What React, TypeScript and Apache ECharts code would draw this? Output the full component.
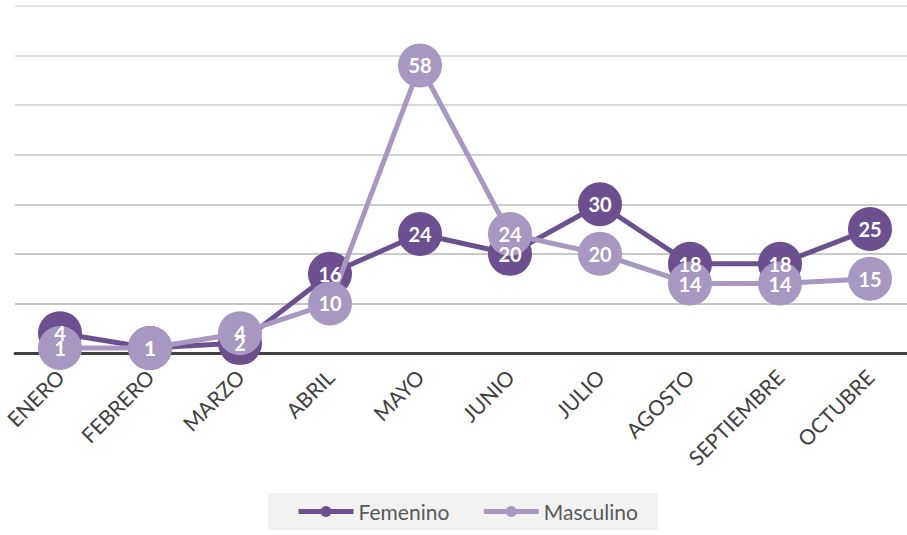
import React, { useEffect, useRef } from "react";
import * as echarts from "echarts";

const categories = ["ENERO", "FEBRERO", "MARZO", "ABRIL", "MAYO", "JUNIO", "JULIO", "AGOSTO", "SEPTIEMBRE", "OCTUBRE"];
const femenino = [4, 1, 2, 16, 24, 20, 30, 18, 18, 25];
const masculino = [1, 1, 4, 10, 58, 24, 20, 14, 14, 15];

const FEM = "#6b4f8f";
const MAS = "#a797c1";
const FONT = "Lato, 'Open Sans', sans-serif";

export default function App() {
  const ref = useRef<HTMLDivElement>(null);
  useEffect(() => {
    if (!ref.current) return;
    const chart = echarts.init(ref.current, undefined, { renderer: "svg" });
    const mkSeries = (name: string, data: number[], color: string, z: number) => ({
      name,
      type: "line",
      data,
      z,
      symbol: "circle",
      symbolSize: 44,
      lineStyle: { color, width: 5 },
      itemStyle: { color },
      label: { show: false },
    });
    const mkLabels = (name: string, data: number[], z: number) => ({
      name,
      type: "line",
      data,
      z,
      symbol: "circle",
      symbolSize: 1,
      lineStyle: { opacity: 0, width: 0 },
      itemStyle: { color: "transparent" },
      label: {
        show: true,
        position: "inside",
        color: "#ffffff",
        fontSize: 20,
        fontWeight: "bold",
        fontFamily: FONT,
      },
    });
    chart.setOption({
      animation: false,
      textStyle: { fontFamily: FONT },
      grid: { left: 15, top: 6, width: 900, height: 347, containLabel: false },
      legend: {
        bottom: 5,
        left: 268,
        backgroundColor: "#f2f2f2",
        padding: [8, 20, 8, 28],
        itemGap: 32,
        itemWidth: 55,
        itemHeight: 14,
        lineStyle: { width: 5 },
        textStyle: { fontSize: 21, color: "#595959", fontFamily: FONT },
        data: ["Femenino", "Masculino"],
      },
      xAxis: {
        type: "category",
        data: categories,
        boundaryGap: true,
        axisLine: { show: true, lineStyle: { color: "#404040", width: 3 } },
        axisTick: { show: false },
        axisLabel: { rotate: 45, fontSize: 21, color: "#404040", fontFamily: FONT, margin: 20 },
      },
      yAxis: {
        type: "value",
        min: 0,
        max: 70,
        interval: 10,
        axisLabel: { show: false },
        axisLine: { show: false },
        axisTick: { show: false },
        splitLine: {
          lineStyle: {
            width: 2,
            color: ["#404040", "#c4c4c4", "#c8c8c8", "#cdcdcd", "#d3d3d3", "#d9d9d9", "#dfdfdf", "#e6e6e6"],
          },
        },
      },
      series: [
        mkSeries("Femenino", femenino, FEM, 2),
        mkSeries("Masculino", masculino, MAS, 3),
        mkLabels("femLabels", femenino, 4),
        mkLabels("masLabels", masculino, 5),
      ],
    });
    return () => chart.dispose();
  }, []);
  return (
    <div style={{ position: "absolute", left: 0, top: 0, width: 907, height: 535, overflow: "hidden" }}>
      <div ref={ref} style={{ width: 930, height: 535 }} />
    </div>
  );
}
